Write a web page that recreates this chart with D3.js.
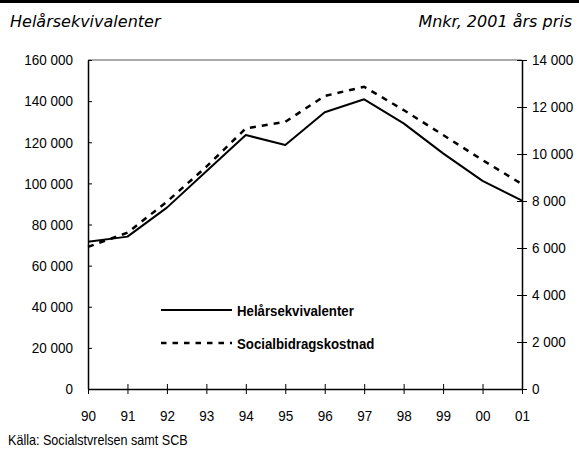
<!DOCTYPE html>
<html>
<head>
<meta charset="utf-8">
<script src="https://cdn.jsdelivr.net/npm/d3@7"></script>
<style>
  body { margin: 0; background: #fff; }
  svg text { fill: #000; }
  .cond { font-family: "Liberation Sans", Arial, sans-serif; font-size: 15px; }
  .hdr { font-family: "DejaVu Sans", sans-serif; font-style: italic; font-size: 16px; }
</style>
</head>
<body>
<svg id="chart" width="579" height="450"></svg>
<script>
// ── Data ─────────────────────────────────────────────────────────────────────

const years       = ["90", "91", "92", "93", "94", "95", "96", "97", "98", "99", "00", "01"];
const helar       = [71600, 74100, 88200, 105900, 123500, 118700, 134600, 140900, 129200, 114600, 101200, 91600];
const socialbidr  = [6050, 6650, 7970, 9460, 11090, 11370, 12470, 12860, 11870, 10810, 9740, 8720];
const leftTicks   = [0, 20000, 40000, 60000, 80000, 100000, 120000, 140000, 160000];
const rightTicks  = [0, 2000, 4000, 6000, 8000, 10000, 12000, 14000];

// ── Layout ───────────────────────────────────────────────────────────────────

const svg = d3.select("#chart");
const X0 = 88, X1 = 522, Y0 = 60, Y1 = 389;
const NARROW = 0.9;

const x  = d3.scalePoint().domain(years).range([X0, X1]);
const yL = d3.scaleLinear().domain([0, 160000]).range([Y1, Y0]);
const yR = d3.scaleLinear().domain([0, 14000]).range([Y1, Y0]);

const fmt = v => d3.format(",")(v).replace(/,/g, " ");

// squeeze text horizontally to mimic the condensed face
function narrow(sel) {
  sel.each(function () {
    const t = d3.select(this);
    const tx = +t.attr("x") || 0;
    t.attr("x", 0).attr("transform", `translate(${tx},0) scale(${NARROW},1)`);
  });
}

// top rule
svg.append("rect").attr("x", 0).attr("y", 0).attr("width", 579).attr("height", 3).attr("fill", "#000");

// headers
svg.append("text").attr("class", "hdr").attr("x", 10).attr("y", 27).text("Helårsekvivalenter");
svg.append("text").attr("class", "hdr").attr("x", 572).attr("y", 27)
  .attr("text-anchor", "end").text("Mnkr, 2001 års pris");

// grey top frame line
svg.append("line").attr("x1", X0).attr("x2", X1).attr("y1", Y0).attr("y2", Y0)
  .attr("stroke", "#8c8c8c").attr("stroke-width", 1.5);

// left axis (ticks point inward)
const gL = svg.append("g").attr("transform", `translate(${X0},0)`)
  .call(d3.axisLeft(yL).tickValues(leftTicks).tickFormat(fmt).tickSizeInner(-4).tickSizeOuter(0).tickPadding(15));
gL.selectAll("text").attr("x", -15);

// right axis (ticks cross the line)
const gR = svg.append("g").attr("transform", `translate(${X1},0)`)
  .call(d3.axisRight(yR).tickValues(rightTicks).tickFormat(fmt).tickSizeInner(5).tickSizeOuter(0).tickPadding(5));
gR.selectAll(".tick line").attr("x1", -5);

// bottom axis (ticks cross the line)
const gB = svg.append("g").attr("transform", `translate(0,${Y1})`)
  .call(d3.axisBottom(x).tickSizeInner(5).tickSizeOuter(0).tickPadding(16));
gB.selectAll(".tick line").attr("y1", -5);

[gL, gR, gB].forEach(g => {
  g.attr("font-family", null).attr("font-size", null);
  g.select(".domain").attr("stroke", "#000").attr("stroke-width", 1.5);
  g.selectAll(".tick line").attr("stroke", "#000").attr("stroke-width", 1);
  g.selectAll("text").attr("class", "cond").attr("fill", "#000").call(narrow);
});

// lines
const lineL = d3.line().x((d, i) => x(years[i])).y(d => yL(d));
const lineR = d3.line().x((d, i) => x(years[i])).y(d => yR(d));

svg.append("path").datum(socialbidr)
  .attr("fill", "none").attr("stroke", "#000").attr("stroke-width", 2.5)
  .attr("stroke-dasharray", "6,6").attr("d", lineR);

svg.append("path").datum(helar)
  .attr("fill", "none").attr("stroke", "#000").attr("stroke-width", 2)
  .attr("stroke-linejoin", "round").attr("d", lineL);

// legend
const legend = [
  { label: "Helårsekvivalenter", dash: null, y: 310, w: 2 },
  { label: "Socialbidragskostnad", dash: "5.5,6", y: 343, w: 2.5 }
];
legend.forEach(d => {
  svg.append("line").attr("x1", 161).attr("x2", 232).attr("y1", d.y).attr("y2", d.y)
    .attr("stroke", "#000").attr("stroke-width", d.w).attr("stroke-dasharray", d.dash);
  svg.append("text").attr("class", "cond").attr("x", 237).attr("y", d.y + 6.5)
    .style("font-size", "14.7px").attr("font-weight", "bold").text(d.label)
    .call(narrow);
});

// source
svg.append("text").attr("class", "cond").attr("x", 8).attr("y", 445)
  .style("font-size", "14px").text("Källa: Socialstvrelsen samt SCB")
  .call(narrow);
</script>
</body>
</html>
